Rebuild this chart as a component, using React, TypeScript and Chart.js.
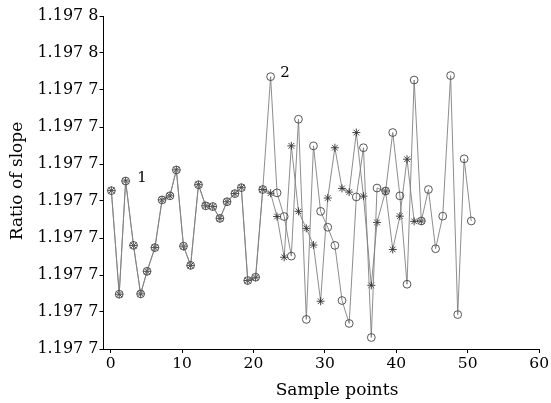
import React, { useEffect, useRef } from "react";
import { Chart, registerables } from "chart.js";

Chart.register(...registerables);

// Sample positions (x)
const sampleX = [
  0.1, 1.2, 2.1, 3.2, 4.2, 5.1, 6.2, 7.2, 8.3, 9.2,
  10.2, 11.2, 12.3, 13.3, 14.3, 15.3, 16.3, 17.4, 18.3, 19.2,
  20.3, 21.3, 22.4, 23.3, 24.3, 25.3, 26.3, 27.4, 28.4, 29.4,
  30.4, 31.4, 32.4, 33.4, 34.4, 35.4, 36.5, 37.3, 38.5, 39.5,
  40.5, 41.5, 42.5, 43.5, 44.5, 45.5, 46.5, 47.6, 48.6, 49.5, 50.5,
];

// Series 1 (circles)
const ratio1 = [
  1.1977128, 1.1976848, 1.1977154, 1.197698, 1.1976849, 1.197691, 1.1976974, 1.1977103, 1.1977114, 1.1977184,
  1.1976978, 1.1976926, 1.1977144, 1.1977087, 1.1977085, 1.1977053, 1.1977098, 1.197712, 1.1977136, 1.1976885,
  1.1976894, 1.1977131, 1.1977436, 1.1977122, 1.1977058, 1.1976951, 1.1977321, 1.197678, 1.1977249, 1.1977072,
  1.1977029, 1.197698, 1.1976831, 1.1976769, 1.1977111, 1.1977244, 1.1976731, 1.1977135, 1.1977127, 1.1977285,
  1.1977114, 1.1976875, 1.1977427, 1.1977046, 1.1977131, 1.1976971, 1.1977059, 1.1977439, 1.1976793, 1.1977214,
  1.1977046,
];

// Series 2 (asterisks)
const ratio2 = [
  1.1977128, 1.1976848, 1.1977154, 1.197698, 1.1976849, 1.197691, 1.1976974, 1.1977103, 1.1977114, 1.1977184,
  1.1976978, 1.1976926, 1.1977144, 1.1977087, 1.1977085, 1.1977053, 1.1977098, 1.197712, 1.1977136, 1.1976885,
  1.1976894, 1.1977131, 1.1977121, 1.1977058, 1.1976948, 1.1977249, 1.1977072, 1.1977026, 1.1976981, 1.1976829,
  1.1977108, 1.1977244, 1.1977134, 1.1977124, 1.1977285, 1.1977113, 1.1976872, 1.1977042, 1.1977127, 1.1976969,
  1.1977059, 1.1977213, 1.1977045, 1.1977046,
];

const xTickValues = [0, 10, 20, 30, 40, 50, 60];
const yTickValues = [
  1.19767, 1.19768, 1.19769, 1.1977, 1.19771, 1.19772, 1.19773, 1.19774, 1.19775, 1.19776,
];
const yTickLabels = [
  "1.197 7", "1.197 7", "1.197 7", "1.197 7", "1.197 7", "1.197 7", "1.197 7", "1.197 7", "1.197 8", "1.197 8",
];

const seriesLabels = ["1", "2"];
const seriesLabelPos = [
  { x: 4.4, y: 1.1977162 },
  { x: 24.4, y: 1.1977446 },
];

const xTitle = "Sample points";
const yTitle = "Ratio of slope";

const FONT = '"DejaVu Serif", "Liberation Serif", serif';

export default function App() {
  const ref = useRef<HTMLCanvasElement | null>(null);

  useEffect(() => {
    const canvas = ref.current;
    if (!canvas) return;

    const annotations = {
      id: "annotations",
      afterDraw(chart: any) {
        const ctx = chart.ctx;
        const xs = chart.scales.x;
        const ys = chart.scales.y;
        ctx.save();
        ctx.fillStyle = "#000";
        ctx.textAlign = "center";
        ctx.textBaseline = "middle";
        ctx.font = `15px ${FONT}`;
        seriesLabels.forEach((t, i) => {
          ctx.fillText(t, xs.getPixelForValue(seriesLabelPos[i].x), ys.getPixelForValue(seriesLabelPos[i].y));
        });
        ctx.font = `17px ${FONT}`;
        ctx.fillText(xTitle, 337, 391);
        ctx.translate(18, 181);
        ctx.rotate(-Math.PI / 2);
        ctx.font = `17px ${FONT}`;
        ctx.fillText(yTitle, 0, 0);
        ctx.restore();
      },
    };

    const toPts = (vals: number[]) => vals.map((v, i) => ({ x: sampleX[i], y: v }));

    const chart = new Chart(canvas, {
      type: "line",
      data: {
        datasets: [
          {
            label: seriesLabels[0],
            data: toPts(ratio1),
            borderColor: "#808080",
            borderWidth: 0.9,
            pointStyle: "circle",
            pointRadius: 3.9,
            pointBorderColor: "#444",
            pointBackgroundColor: "rgba(0,0,0,0)",
            pointBorderWidth: 0.9,
            tension: 0,
          },
          {
            label: seriesLabels[1],
            data: toPts(ratio2),
            borderColor: "#808080",
            borderWidth: 0.9,
            pointStyle: "star",
            pointRadius: 4,
            pointBorderColor: "#333",
            pointBackgroundColor: "rgba(0,0,0,0)",
            pointBorderWidth: 0.9,
            tension: 0,
          },
        ],
      },
      options: {
        animation: false,
        responsive: false,
        events: [],
        layout: { padding: { left: 0, right: 11, top: 16, bottom: 0 } },
        plugins: { legend: { display: false }, tooltip: { enabled: false } },
        scales: {
          x: {
            type: "linear",
            min: -1,
            max: 60,
            afterBuildTicks: (s: any) => {
              s.ticks = xTickValues.map((v) => ({ value: v }));
            },
            afterFit: (s: any) => {
              s.height = 54;
            },
            grid: { display: true, drawOnChartArea: false, drawTicks: true, tickLength: 4, color: "#000" },
            border: { display: true, color: "#000", width: 1 },
            ticks: { color: "#000", font: { family: FONT, size: 15.5 }, padding: 2, maxRotation: 0 },
          },
          y: {
            type: "linear",
            min: yTickValues[0],
            max: yTickValues[yTickValues.length - 1],
            afterBuildTicks: (s: any) => {
              s.ticks = yTickValues.map((v) => ({ value: v }));
            },
            afterFit: (s: any) => {
              s.width = 103.5;
            },
            grid: { display: true, drawOnChartArea: false, drawTicks: true, tickLength: 4, color: "#000" },
            border: { display: true, color: "#000", width: 1 },
            ticks: {
              color: "#000",
              font: { family: FONT, size: 16 },
              padding: 1,
              callback: (_v: any, i: number) => yTickLabels[i],
            },
          },
        },
      },
      plugins: [annotations],
    });

    return () => chart.destroy();
  }, []);

  return (
    <div style={{ position: "absolute", left: 0, top: 0, width: 551, height: 403, background: "#fff" }}>
      <canvas ref={ref} width={551} height={403} style={{ display: "block" }} />
    </div>
  );
}
